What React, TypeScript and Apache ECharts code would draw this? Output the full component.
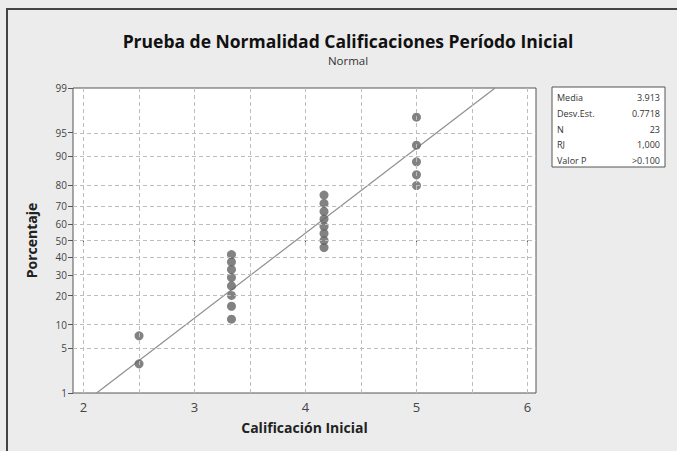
import React, { useEffect, useRef } from "react";
import * as echarts from "echarts";

// Data (Minitab normal probability plot)
const calificaciones = [
  2.5, 2.5,
  3.333, 3.333, 3.333, 3.333, 3.333, 3.333, 3.333, 3.333,
  4.167, 4.167, 4.167, 4.167, 4.167, 4.167, 4.167, 4.167,
  5, 5, 5, 5, 5,
];
const porcentajes = [
  3.0, 7.3,
  11.5, 15.8, 20.1, 24.4, 28.6, 32.9, 37.2, 41.5,
  45.7, 50.0, 54.3, 58.5, 62.8, 67.1, 71.4, 75.6,
  79.9, 84.2, 88.5, 92.7, 97.0,
];
const yTickLabels = [1, 5, 10, 20, 30, 40, 50, 60, 70, 80, 90, 95, 99];
const xTickLabels = [2, 3, 4, 5, 6];
const xGridValues = [2, 2.5, 3, 3.5, 4, 4.5, 5, 5.5, 6];
const statNames = ["Media", "Desv.Est.", "N", "RJ", "Valor P"];
const statValues = ["3.913", "0.7718", "23", "1,000", ">0.100"];
const media = 3.913;
const desvEst = 0.7718;

// inverse standard normal CDF (Acklam)
function probit(p: number): number {
  const a = [-3.969683028665376e1, 2.209460984245205e2, -2.759285104469687e2, 1.38357751867269e2, -3.066479806614716e1, 2.506628277459239];
  const b = [-5.447609879822406e1, 1.615858368580409e2, -1.556989798598866e2, 6.680131188771972e1, -1.328068155288572e1];
  const c = [-7.784894002430293e-3, -3.223964580411365e-1, -2.400758277161838, -2.549732539343734, 4.374664141464968, 2.938163982698783];
  const d = [7.784695709041462e-3, 3.224671290700398e-1, 2.445134137142996, 3.754408661907416];
  const pl = 0.02425;
  const ph = 1 - pl;
  if (p < pl) {
    const q = Math.sqrt(-2 * Math.log(p));
    return (((((c[0] * q + c[1]) * q + c[2]) * q + c[3]) * q + c[4]) * q + c[5]) / ((((d[0] * q + d[1]) * q + d[2]) * q + d[3]) * q + 1);
  }
  if (p <= ph) {
    const q = p - 0.5;
    const r = q * q;
    return ((((((a[0] * r + a[1]) * r + a[2]) * r + a[3]) * r + a[4]) * r + a[5]) * q) / (((((b[0] * r + b[1]) * r + b[2]) * r + b[3]) * r + b[4]) * r + 1);
  }
  const q = Math.sqrt(-2 * Math.log(1 - p));
  return -(((((c[0] * q + c[1]) * q + c[2]) * q + c[3]) * q + c[4]) * q + c[5]) / ((((d[0] * q + d[1]) * q + d[2]) * q + d[3]) * q + 1);
}

const zTicks = yTickLabels.map((p) => probit(p / 100));
const zMin = zTicks[0];
const zMax = zTicks[zTicks.length - 1];

export default function App() {
  const ref = useRef<HTMLDivElement>(null);
  useEffect(() => {
    if (!ref.current) return;
    const chart = echarts.init(ref.current, null, { renderer: "svg" });
    const points = calificaciones.map((x, i) => [x, probit(porcentajes[i] / 100)]);
    const fitLine = [
      [media + desvEst * zMin, zMin],
      [media + desvEst * zMax, zMax],
    ];
    const font = "'Open Sans', 'DejaVu Sans', sans-serif";
    const legendX = 552;
    const legendY = 87;
    const rowH = 15.8;
    const legendChildren: any[] = [
      {
        type: "rect",
        shape: { x: 0, y: 0, width: 113, height: 80 },
        style: { fill: "#ffffff", stroke: "#555555", lineWidth: 1 },
      },
    ];
    statNames.forEach((n, i) => {
      legendChildren.push({
        type: "text",
        x: 5,
        y: 10.5 + i * rowH,
        style: { text: n, fill: "#333", font: `9px ${font}`, textVerticalAlign: "middle" },
      });
      legendChildren.push({
        type: "text",
        x: 108,
        y: 10.5 + i * rowH,
        style: { text: statValues[i], fill: "#333", font: `9px ${font}`, textAlign: "right", textVerticalAlign: "middle" },
      });
    });

    chart.setOption({
      animation: false,
      backgroundColor: "#ececec",
      title: {
        text: "Prueba de Normalidad Calificaciones Período Inicial",
        subtext: "Normal",
        left: 343,
        textAlign: "center",
        top: 27,
        itemGap: 4,
        textStyle: { fontFamily: font, fontWeight: "bold", fontSize: 17.5, color: "#111" },
        subtextStyle: { fontFamily: font, fontSize: 11.5, color: "#333" },
      },
      grid: {
        left: 73,
        right: 141,
        top: 88,
        bottom: 58,
        show: true,
        backgroundColor: "#ffffff",
        borderColor: "#555555",
        borderWidth: 1,
      },
      xAxis: {
        type: "value",
        min: 1.905,
        max: 6.077,
        name: "Calificación Inicial",
        nameLocation: "middle",
        nameGap: 27,
        nameTextStyle: { fontFamily: font, fontWeight: "bold", fontSize: 14, color: "#222" },
        axisLine: { show: false },
        axisTick: { show: true, customValues: xTickLabels, length: 4, lineStyle: { color: "#555" } },
        axisLabel: { customValues: xTickLabels, fontFamily: font, fontSize: 13, color: "#444", margin: 7 },
        splitLine: { show: false },
      },
      yAxis: {
        type: "value",
        min: zMin,
        max: zMax,
        name: "Porcentaje",
        nameLocation: "middle",
        nameRotate: 90,
        nameGap: 35,
        nameTextStyle: { fontFamily: font, fontWeight: "bold", fontSize: 14, color: "#222" },
        axisLine: { show: false },
        axisTick: { show: true, customValues: zTicks, length: 5, lineStyle: { color: "#555" } },
        axisLabel: {
          customValues: zTicks,
          fontFamily: font,
          fontSize: 10,
          color: "#444",
          margin: 6,
          formatter: (v: number) => {
            let best = 0;
            zTicks.forEach((z, i) => {
              if (Math.abs(z - v) < Math.abs(zTicks[best] - v)) best = i;
            });
            return String(yTickLabels[best]);
          },
        },
        splitLine: { show: false },
      },
      series: [
        {
          type: "line",
          data: fitLine,
          symbol: "none",
          lineStyle: { color: "#8f8f8f", width: 1.2 },
          silent: true,
          markLine: {
            silent: true,
            symbol: "none",
            label: { show: false },
            lineStyle: { color: "#bdbdbd", type: [4, 3], width: 1 },
            data: [
              ...yTickLabels.slice(1, -1).map((p) => ({ yAxis: probit(p / 100) })),
              ...xGridValues.map((x) => ({ xAxis: x })),
            ],
          },
          z: 3,
        },
        {
          type: "scatter",
          data: points,
          symbol: "circle",
          symbolSize: 9,
          itemStyle: { color: "#636363" },
          z: 4,
        },
      ],
      graphic: [
        { type: "rect", shape: { x: 6, y: 8, width: 671, height: 2 }, style: { fill: "#444" } },
        { type: "rect", shape: { x: 6, y: 8, width: 2, height: 443 }, style: { fill: "#444" } },
        { type: "group", x: legendX, y: legendY, children: legendChildren },
      ],
    });
    return () => chart.dispose();
  }, []);
  return (
    <div
      ref={ref}
      style={{ position: "fixed", left: 0, top: 0, width: 677, height: 451 }}
    />
  );
}
